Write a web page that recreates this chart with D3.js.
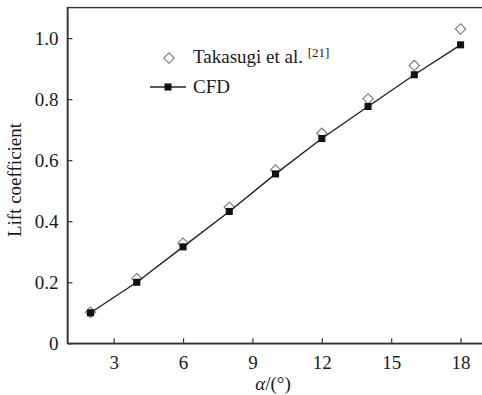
<!DOCTYPE html>
<html>
<head>
<meta charset="utf-8">
<script src="https://cdn.jsdelivr.net/npm/d3@7"></script>
<style>
  html, body { margin: 0; padding: 0; background: #fff; }
  svg { display: block; }
  text { font-family: "Liberation Serif", "Times New Roman", Times, serif; fill: #1a1a1a; }
</style>
</head>
<body>
<script>
// Angle of attack (degrees)
const alpha = [2, 4, 6, 8, 10, 12, 14, 16, 18];
// Lift coefficient, experiment (Takasugi et al.)
const clExperiment = [0.102, 0.212, 0.328, 0.446, 0.568, 0.688, 0.801, 0.910, 1.030];
// Lift coefficient, CFD
const clCFD = [0.100, 0.200, 0.316, 0.432, 0.555, 0.671, 0.776, 0.880, 0.978];
// Axis ticks
const xTicks = [3, 6, 9, 12, 15, 18];
const yTicks = [0, 0.2, 0.4, 0.6, 0.8, 1.0];
const yTickLabels = ["0", "0.2", "0.4", "0.6", "0.8", "1.0"];

const W = 482, H = 395;
const plotLeft = 67.4, plotRight = 483.7, plotTop = 7.6, plotBottom = 343.3;

const svg = d3.select("body").append("svg")
  .attr("width", W).attr("height", H);

const x = d3.scaleLinear().domain([1, 19]).range([plotLeft, plotRight]);
const y = d3.scaleLinear().domain([0, 1.1]).range([plotBottom, plotTop]);

const axisColor = "#333";

// Frame
svg.append("rect")
  .attr("x", plotLeft).attr("y", plotTop)
  .attr("width", plotRight - plotLeft).attr("height", plotBottom - plotTop)
  .attr("fill", "none").attr("stroke", axisColor).attr("stroke-width", 1.4);

// X axis (inward ticks)
const xAxis = svg.append("g")
  .attr("transform", `translate(0,${plotBottom})`)
  .call(d3.axisBottom(x).tickValues(xTicks).tickSizeInner(-5).tickSizeOuter(0).tickPadding(12));
xAxis.select(".domain").attr("stroke", axisColor).attr("stroke-width", 1.4);
xAxis.selectAll(".tick line").attr("stroke", axisColor).attr("stroke-width", 1.2);
xAxis.selectAll(".tick text").attr("font-size", 19);

// Y axis (inward ticks)
const yAxis = svg.append("g")
  .attr("transform", `translate(${plotLeft},0)`)
  .call(d3.axisLeft(y).tickValues(yTicks).tickFormat((d, i) => yTickLabels[i])
    .tickSizeInner(-5).tickSizeOuter(0).tickPadding(9));
yAxis.select(".domain").attr("stroke", axisColor).attr("stroke-width", 1.4);
yAxis.selectAll(".tick line").attr("stroke", axisColor).attr("stroke-width", 1.2);
yAxis.selectAll(".tick text").attr("font-size", 19);

// Axis titles
svg.append("text")
  .attr("transform", `translate(21,180) rotate(-90)`)
  .attr("text-anchor", "middle")
  .attr("font-size", 19)
  .text("Lift coefficient");

const xt = svg.append("text")
  .attr("x", 273).attr("y", 390)
  .attr("text-anchor", "middle")
  .attr("font-size", 19);
xt.append("tspan").attr("font-style", "italic").text("α");
xt.append("tspan").text("/(°)");

// Open diamond = square rotated by 45°
const diamond = d3.symbol().type(d3.symbolSquare).size(54);
const square = d3.symbol().type(d3.symbolSquare).size(50);

// Experimental points (open diamonds)
svg.append("g").selectAll("path")
  .data(alpha.map((a, i) => [a, clExperiment[i]]))
  .join("path")
  .attr("d", diamond)
  .attr("transform", d => `translate(${x(d[0])},${y(d[1])}) rotate(45)`)
  .attr("fill", "#fff").attr("stroke", "#777").attr("stroke-width", 1.1);

// CFD line + filled squares
const pts = alpha.map((a, i) => [a, clCFD[i]]);
svg.append("path")
  .datum(pts)
  .attr("d", d3.line().x(d => x(d[0])).y(d => y(d[1])))
  .attr("fill", "none").attr("stroke", "#222").attr("stroke-width", 1.4);
svg.append("g").selectAll("path")
  .data(pts)
  .join("path")
  .attr("d", square)
  .attr("transform", d => `translate(${x(d[0])},${y(d[1])})`)
  .attr("fill", "#111");

// Legend
svg.append("path")
  .attr("d", diamond)
  .attr("transform", "translate(169,58) rotate(45)")
  .attr("fill", "#fff").attr("stroke", "#777").attr("stroke-width", 1.1);
const lt = svg.append("text").attr("x", 193).attr("y", 63).attr("font-size", 19);
lt.append("tspan").text("Takasugi et al. ");
lt.append("tspan").attr("font-size", 13).attr("dy", -6).text("[21]");

svg.append("line")
  .attr("x1", 150).attr("x2", 186).attr("y1", 87).attr("y2", 87)
  .attr("stroke", "#222").attr("stroke-width", 1.4);
svg.append("path")
  .attr("d", square)
  .attr("transform", "translate(168,87)")
  .attr("fill", "#111");
svg.append("text").attr("x", 193).attr("y", 93).attr("font-size", 19).text("CFD");
</script>
</body>
</html>
